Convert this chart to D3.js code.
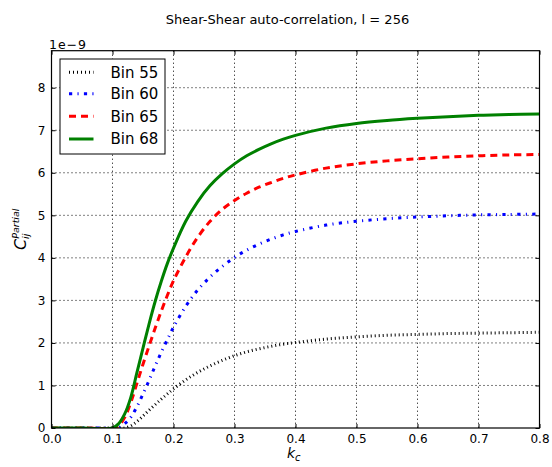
<!DOCTYPE html>
<html>
<head>
<meta charset="utf-8">
<script src="https://cdn.jsdelivr.net/npm/d3@7"></script>
<style>
  body { margin: 0; background: #fff; }
  svg { display: block; }
  text { font-family: "DejaVu Sans", sans-serif; }
</style>
</head>
<body>
<svg id="chart" width="552" height="467"></svg>
<script>
// ---- data (values in units of 1e-9) ----
const kc = [0, 0.05, 0.1, 0.11, 0.12, 0.13, 0.14, 0.15, 0.16, 0.17, 0.18, 0.19, 0.2,
            0.22, 0.24, 0.26, 0.28, 0.3, 0.32, 0.34, 0.36, 0.38, 0.4,
            0.45, 0.5, 0.55, 0.6, 0.65, 0.7, 0.75, 0.8];
const bin55 = [0, 0, 0, 0, 0, 0.05, 0.15, 0.28, 0.42, 0.55, 0.68, 0.8, 0.92,
               1.13, 1.31, 1.46, 1.59, 1.7, 1.79, 1.86, 1.92, 1.97, 2.01,
               2.09, 2.14, 2.18, 2.2, 2.22, 2.23, 2.24, 2.25];
const bin60 = [0, 0, 0, 0.01, 0.1, 0.25, 0.5, 0.8, 1.12, 1.46, 1.78, 2.08, 2.37,
               2.86, 3.25, 3.55, 3.8, 4.01, 4.18, 4.32, 4.44, 4.54, 4.62,
               4.77, 4.86, 4.92, 4.96, 4.99, 5.01, 5.02, 5.03];
const bin65 = [0, 0, 0, 0.05, 0.25, 0.6, 1.05, 1.5, 1.93, 2.35, 2.75, 3.12, 3.46,
               4.02, 4.49, 4.86, 5.14, 5.35, 5.52, 5.66, 5.77, 5.87, 5.95,
               6.11, 6.21, 6.28, 6.33, 6.37, 6.4, 6.42, 6.43];
const bin68 = [0, 0, 0, 0.1, 0.33, 0.72, 1.3, 1.88, 2.45, 2.98, 3.45, 3.87, 4.23,
               4.86, 5.33, 5.7, 5.98, 6.21, 6.4, 6.55, 6.68, 6.79, 6.88,
               7.05, 7.16, 7.23, 7.28, 7.32, 7.35, 7.37, 7.38];
const seriesNames = ["Bin 55", "Bin 60", "Bin 65", "Bin 68"];
const seriesData = [bin55, bin60, bin65, bin68];
const seriesColors = ["#000000", "#0000ff", "#ff0000", "#008000"];
const seriesDash = ["1,3", "3.2,5.3,1.1,5.3", "7,5", null];
const xTicks = [0, 0.1, 0.2, 0.3, 0.4, 0.5, 0.6, 0.7, 0.8];
const yTicks = [0, 1, 2, 3, 4, 5, 6, 7, 8];
const titleText = "Shear-Shear auto-correlation, l = 256";

// ---- layout ----
const svg = d3.select("#chart");
const L = 51.5, R = 539.5, T = 50.7, B = 428;
const x = d3.scaleLinear().domain([0, 0.8]).range([L, R]);
const y = d3.scaleLinear().domain([0, 8.87]).range([B, T]);

// grid
const grid = svg.append("g");
xTicks.slice(1, -1).forEach(t => {
  grid.append("line").attr("x1", x(t)).attr("x2", x(t)).attr("y1", T).attr("y2", B)
    .attr("stroke", "#000").attr("stroke-width", 1).attr("stroke-dasharray", "1,3");
});
yTicks.slice(1).forEach(t => {
  grid.append("line").attr("x1", L).attr("x2", R).attr("y1", y(t)).attr("y2", y(t))
    .attr("stroke", "#000").attr("stroke-width", 1).attr("stroke-dasharray", "1,3");
});

// clip
svg.append("clipPath").attr("id", "clip").append("rect")
  .attr("x", L).attr("y", T).attr("width", R - L).attr("height", B - T);

const line = d3.line().x(d => x(d[0])).y(d => y(d[1])).curve(d3.curveCatmullRom.alpha(0.5));
const lines = svg.append("g").attr("clip-path", "url(#clip)");
seriesData.forEach((s, i) => {
  lines.append("path")
    .attr("d", line(kc.map((k, j) => [k, s[j]])))
    .attr("fill", "none")
    .attr("stroke", seriesColors[i])
    .attr("stroke-width", 3)
    .attr("stroke-dasharray", seriesDash[i])
    .attr("stroke-linecap", "butt");
});

// axes (ticks inward, all four sides)
const fmtX = d3.format(".1f");
const axB = svg.append("g").attr("transform", `translate(0,${B})`)
  .call(d3.axisBottom(x).tickValues(xTicks).tickFormat(fmtX).tickSizeInner(-4).tickSizeOuter(0).tickPadding(6));
const axT = svg.append("g").attr("transform", `translate(0,${T})`)
  .call(d3.axisTop(x).tickValues(xTicks).tickFormat("").tickSizeInner(-4).tickSizeOuter(0));
const axL = svg.append("g").attr("transform", `translate(${L},0)`)
  .call(d3.axisLeft(y).tickValues(yTicks).tickFormat(d3.format("d")).tickSizeInner(-4).tickSizeOuter(0).tickPadding(6));
const axR = svg.append("g").attr("transform", `translate(${R},0)`)
  .call(d3.axisRight(y).tickValues(yTicks).tickFormat("").tickSizeInner(-4).tickSizeOuter(0));
[axB, axT, axL, axR].forEach(a => {
  a.select(".domain").remove();
  a.selectAll(".tick line").attr("stroke", "#000").attr("stroke-width", 1);
  a.selectAll("text").attr("font-size", 12).attr("font-family", "DejaVu Sans").attr("fill", "#000");
});
axB.selectAll("text").attr("dy", "0.71em");

// frame
svg.append("rect").attr("x", L).attr("y", T).attr("width", R - L).attr("height", B - T)
  .attr("fill", "none").attr("stroke", "#000").attr("stroke-width", 1.2);

// offset text
svg.append("text").attr("x", 49).attr("y", 48.5).attr("font-size", 12.5)
  .attr("textLength", 37).attr("lengthAdjust", "spacing").text("1e\u22129");

// title
svg.append("text").attr("x", 287.5).attr("y", 24).attr("text-anchor", "middle")
  .attr("font-size", 13).text(titleText);

// x label
const xl = svg.append("text").attr("x", 287).attr("y", 458).attr("text-anchor", "start")
  .attr("font-family", "Liberation Serif").attr("font-style", "italic").attr("font-size", 14);
xl.append("tspan").text("k");
xl.append("tspan").attr("font-size", 10).attr("dy", 3).text("c");

// y label
const yl = svg.append("text").attr("transform", "translate(26,250) rotate(-90)")
  .attr("text-anchor", "start").attr("font-family", "Liberation Serif").attr("font-style", "italic").attr("font-size", 16);
yl.append("tspan").text("C");
yl.append("tspan").attr("font-size", 9.5).attr("dy", -7).text("Partial");
yl.append("tspan").attr("font-size", 9.5).attr("x", 11).attr("dy", 10).text("ij");

// legend
const lg = svg.append("g");
lg.append("rect").attr("x", 60).attr("y", 59).attr("width", 105).attr("height", 95)
  .attr("fill", "#fff").attr("stroke", "#000").attr("stroke-width", 1);
const ly = [72.3, 93.8, 116.3, 139];
seriesNames.forEach((n, i) => {
  lg.append("line").attr("x1", 69).attr("x2", 93.5).attr("y1", ly[i]).attr("y2", ly[i])
    .attr("stroke", seriesColors[i]).attr("stroke-width", 3).attr("stroke-dasharray", seriesDash[i]);
  lg.append("text").attr("x", 110.5).attr("y", ly[i]).attr("dy", "0.36em").attr("font-size", 15).text(n);
});
</script>
</body>
</html>
